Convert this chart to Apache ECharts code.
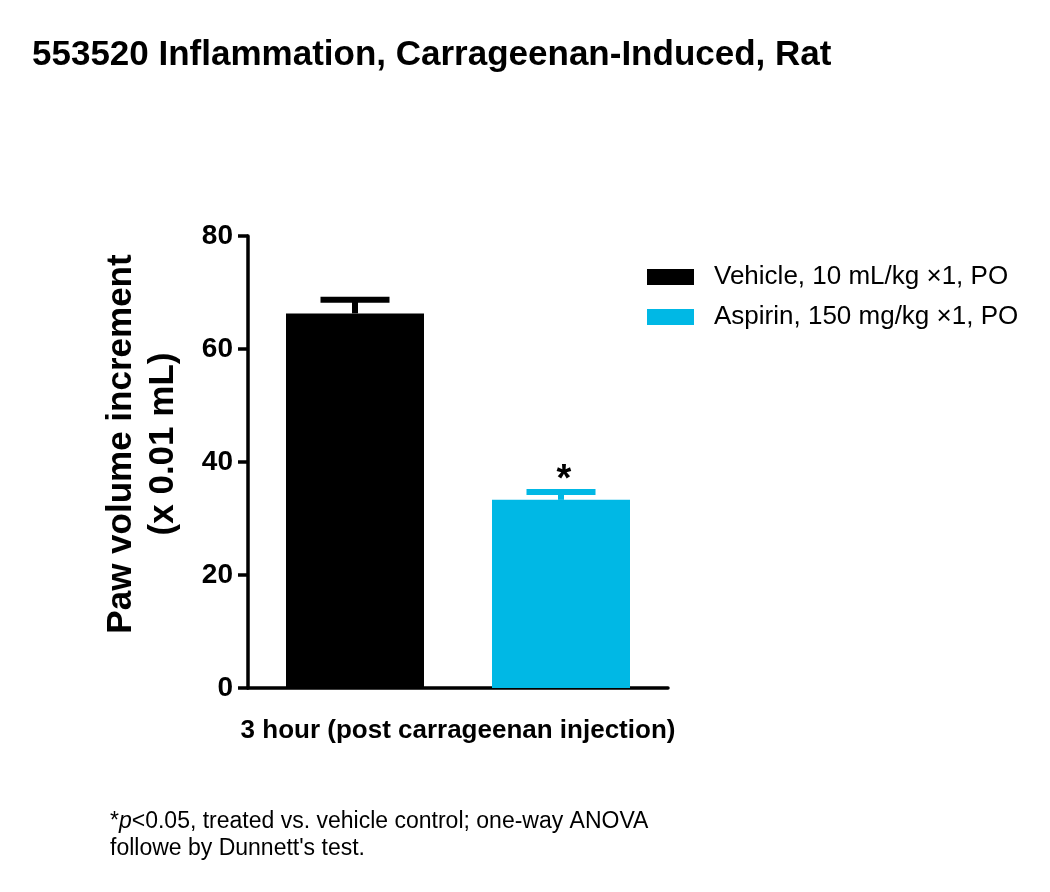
<!DOCTYPE html>
<html>
<head>
<meta charset="utf-8">
<script src="https://cdn.jsdelivr.net/npm/echarts@6/dist/echarts.min.js"></script>
<style>
  html, body { margin: 0; padding: 0; background: #fff; }
  #main { width: 1050px; height: 892px; }
</style>
</head>
<body>
<div id="main"></div>
<script>
// 데이터
var categories = ['3 hour (post carrageenan injection)'];
var groups = ['Vehicle, 10 mL/kg \u00d71, PO', 'Aspirin, 150 mg/kg \u00d71, PO'];
var means = [66.3, 33.3];
var sems = [2.4, 1.4];
var marks = ['', '*'];
var colors = ['#000000', '#00B8E5'];
var yTicks = [0, 20, 40, 60, 80];

var FONT = '"Liberation Sans", Arial, sans-serif';
var barW = 138;
var barGapPx = 68;

// 에러바 그리기
function errorRender(idx) {
	var offset = (idx - (groups.length - 1) / 2) * (barW + barGapPx);
	return function(params, api) {
		var base = api.coord([api.value(0), api.value(1)]);
		var top = api.coord([api.value(0), api.value(1) + api.value(2)]);
		var x = base[0] + offset;
		var capHalf = barW / 4;
		var style = { stroke: colors[idx], lineWidth: 6 };
		var children = [
			{ type: 'line', shape: { x1: x, y1: base[1], x2: x, y2: top[1] }, style: style },
			{ type: 'line', shape: { x1: x - capHalf, y1: top[1], x2: x + capHalf, y2: top[1] }, style: style }
		];
		if (marks[idx]) {
			children.push({
				type: 'text',
				style: {
					text: marks[idx], x: x + 3, y: top[1] + 8,
					fill: '#000', font: 'bold 38px ' + FONT,
					textAlign: 'center', textVerticalAlign: 'bottom'
				}
			});
		}
		return { type: 'group', children: children };
	};
}

var series = [];
groups.forEach(function(name, i) {
	series.push({
		name: name,
		type: 'bar',
		barWidth: barW,
		barGap: (barGapPx / barW * 100) + '%',
		itemStyle: { color: colors[i] },
		data: [means[i]],
		silent: true
	});
});
groups.forEach(function(name, i) {
	series.push({
		type: 'custom',
		renderItem: errorRender(i),
		data: [[0, means[i], sems[i]]],
		z: 5,
		silent: true
	});
});

var chart = echarts.init(document.getElementById('main'));
var option = {
	animation: false,
	backgroundColor: '#fff',
	title: {
		text: '553520 Inflammation, Carrageenan-Induced, Rat',
		left: 27, top: 33,
		textStyle: { fontFamily: FONT, fontSize: 35, fontWeight: 'bold', color: '#000' }
	},
	legend: {
		orient: 'vertical',
		left: 642, top: 259,
		itemWidth: 47, itemHeight: 16, itemGap: 14,
		icon: 'rect',
		data: groups,
		textStyle: { fontFamily: FONT, fontSize: 26, color: '#000', padding: [0, 0, 0, 15] }
	},
	grid: { left: 248, right: 382, top: 236, bottom: 204 },
	xAxis: {
		type: 'category',
		data: categories,
		axisLine: { lineStyle: { color: '#000', width: 3.5 } },
		axisTick: { show: false },
		axisLabel: { fontFamily: FONT, fontSize: 26, fontWeight: 'bold', color: '#000', margin: 30 }
	},
	yAxis: {
		type: 'value',
		min: yTicks[0], max: yTicks[yTicks.length - 1], interval: 20,
		name: 'Paw volume increment\n(x 0.01 mL)',
		nameLocation: 'middle',
		nameRotate: 90,
		nameGap: 64,
		nameTextStyle: { fontFamily: FONT, fontSize: 35, fontWeight: 'bold', color: '#000', lineHeight: 42, padding: [0, 0, 0, 36] },
		axisLine: { show: true, lineStyle: { color: '#000', width: 3.5 } },
		axisTick: { show: true, length: 10, lineStyle: { color: '#000', width: 3.5 } },
		axisLabel: { fontFamily: FONT, fontSize: 28, fontWeight: 'bold', color: '#000', margin: 15 },
		splitLine: { show: false }
	},
	graphic: [{
		type: 'text',
		left: 110, top: 808,
		style: {
			text: '*{i|p}<0.05, treated vs. vehicle control; one-way ANOVA\nfollowe by Dunnett\'s test.',
			font: '23px ' + FONT,
			fill: '#000',
			lineHeight: 27,
			rich: { i: { fontStyle: 'italic', fontSize: 23, fontFamily: FONT } }
		}
	}],
	series: series
};
chart.setOption(option);
</script>
</body>
</html>
